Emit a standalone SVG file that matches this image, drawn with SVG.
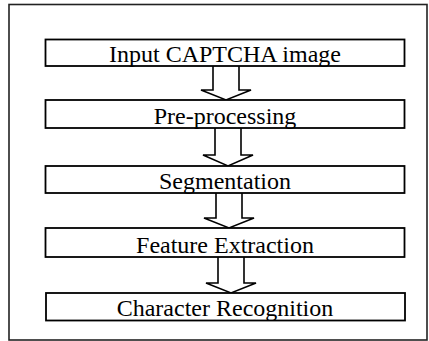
<svg xmlns="http://www.w3.org/2000/svg" width="429" height="341" viewBox="0 0 429 341">
<style>
.box{fill:#fff;stroke:#000;stroke-width:1.8}
.lbl{font-family:"Liberation Serif","Times New Roman",serif;font-size:24px;fill:#000;text-anchor:middle}
.arr{fill:#fff;stroke:#000;stroke-width:1.6;stroke-linejoin:miter}
</style>
<rect x="0" y="0" width="429" height="341" fill="#fff"/>
<rect x="9" y="4.5" width="418" height="335.5" fill="none" stroke="#222" stroke-width="1.6"/>
<g id="connectors">
<polyline class="arr" points="213,66 213,90 201,90 226,100 251,90 239,90 239,66"/>
<polyline class="arr" points="215,128 215,155 203,155 228,166 253,155 241,155 241,128"/>
<polyline class="arr" points="216,193 216,218 204,218 229,228 254,218 242,218 242,193"/>
<polyline class="arr" points="218,257 218,283 206,283 231,293 256,283 244,283 244,257"/>
</g>
<g id="n1"><rect class="box" x="45.5" y="39.5" width="359" height="26.5"/><text class="lbl" x="225" y="62">Input CAPTCHA image</text></g>
<g id="n2"><rect class="box" x="45.5" y="100" width="359" height="28"/><text class="lbl" x="225" y="124">Pre-processing</text></g>
<g id="n3"><rect class="box" x="45.5" y="166" width="359" height="27"/><text class="lbl" x="225" y="189">Segmentation</text></g>
<g id="n4"><rect class="box" x="45.5" y="228" width="359" height="29"/><text class="lbl" x="225" y="253">Feature Extraction</text></g>
<g id="n5"><rect class="box" x="46" y="293" width="359" height="27.5"/><text class="lbl" x="225" y="316">Character Recognition</text></g>
</svg>
